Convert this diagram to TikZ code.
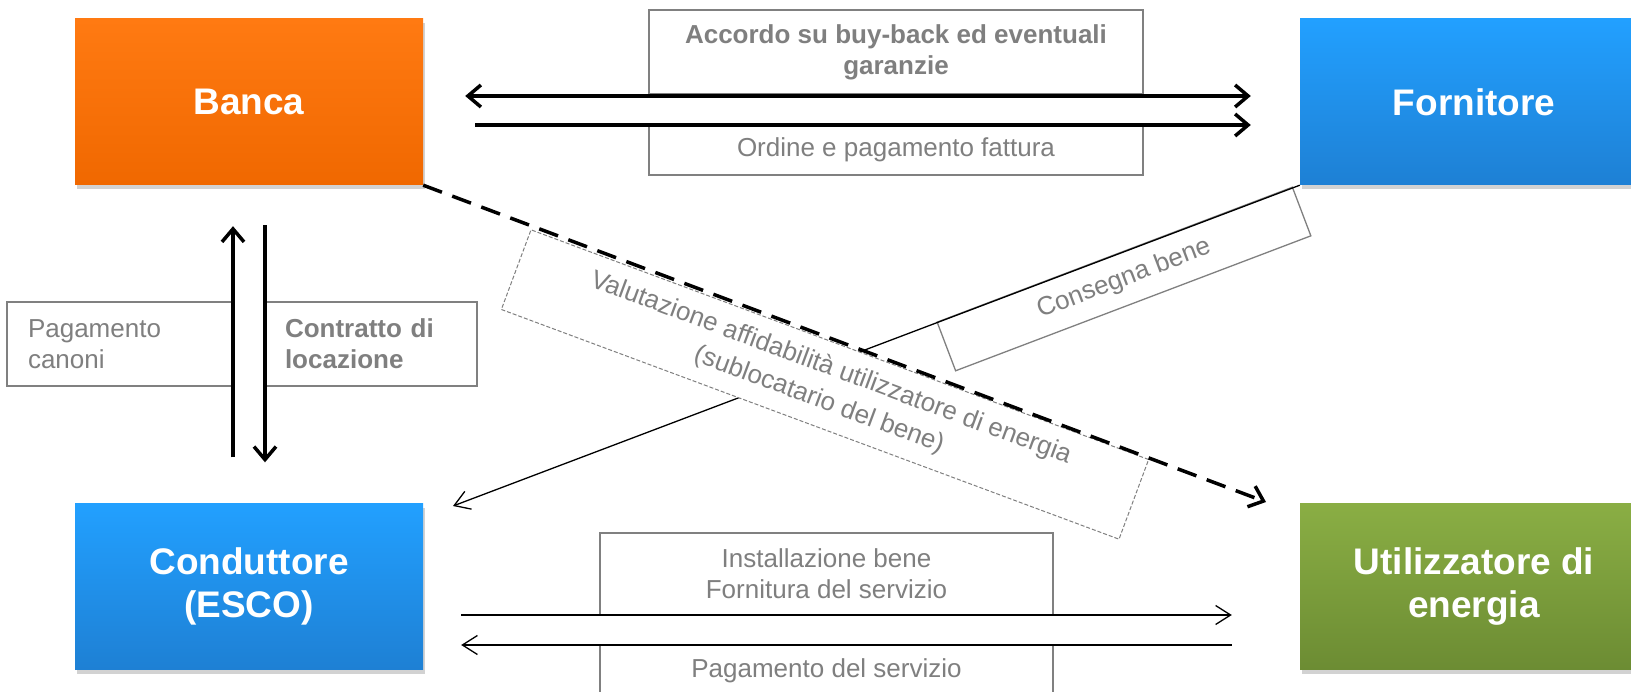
\documentclass[tikz,border=0pt]{standalone}
\usepackage{fontspec}
\setmainfont{Liberation Sans}
\usetikzlibrary{arrows.meta,shadows,positioning}

\definecolor{bancatop}{HTML}{FF7A12}
\definecolor{bancabot}{HTML}{F06800}
\definecolor{bluetop}{HTML}{22A0FF}
\definecolor{bluebot}{HTML}{1E80D4}
\definecolor{greentop}{HTML}{8AAE44}
\definecolor{greenbot}{HTML}{6C8C33}
\definecolor{boxgray}{HTML}{808080}
\definecolor{txtgray}{HTML}{7F7F7F}

\tikzset{
  entity/.style={minimum width=348pt, minimum height=166pt, inner sep=0pt,
    text=white, align=center, font=\fontsize{37}{43}\selectfont\bfseries,
    drop shadow={shadow xshift=2pt, shadow yshift=-4pt, opacity=0.35}},
  lbl/.style={draw=boxgray, line width=1.3pt, fill=white, text=txtgray,
    inner sep=0pt, align=center, font=\fontsize{26}{31}\selectfont},
  lblbold/.style={lbl, font=\fontsize{26}{31}\selectfont\bfseries},
  bigarrow/.style={line width=3.5pt, -{Straight Barb[length=13pt,width=22pt]}},
  bigboth/.style={line width=3.5pt,
    {Straight Barb[length=13pt,width=22pt]}-{Straight Barb[length=13pt,width=22pt]}},
  smallarrow/.style={line width=1.3pt, -{Straight Barb[length=15pt,width=19pt]}},
}

\begin{document}
\begin{tikzpicture}[x=1pt,y=-1pt]
  \useasboundingbox (0,0) rectangle (1631,692);
  \clip (0,0) rectangle (1631,692);
  \fill[white] (0,0) rectangle (1631,692);

  % soggetti
  \node[entity, top color=bancatop, bottom color=bancabot] (banca) at (249,102) {Banca};
  \node[entity, top color=bluetop, bottom color=bluebot] (fornitore) at (1474,102) {Fornitore};
  \node[entity, top color=bluetop, bottom color=bluebot] (conduttore) at (249,586.5) {Conduttore\\(ESCO)};
  \node[entity, top color=greentop, bottom color=greenbot] (utilizzatore) at (1474,586.5) {Utilizzatore di\\energia};

  % etichette
  \node[lblbold, minimum width=494pt, minimum height=84pt] (accordo) at (896,52) {Accordo su buy-back ed eventuali\\garanzie};
  \node[lbl, minimum width=494pt, minimum height=50pt] (ordine) at (896,150) {Ordine e pagamento fattura};
  \node[lbl, minimum height=84pt, text width=184pt, inner xsep=21pt, align=left] (canoni) at (120,344) {Pagamento\\canoni};
  \node[lblbold, minimum height=84pt, text width=173pt, inner xsep=19pt, align=left] (contratto) at (371.5,344) {Contratto di\\locazione};
  \node[lbl, minimum width=453pt, minimum height=82pt] (installazione) at (826.5,574) {Installazione bene\\Fornitura del servizio};
  \node[lbl, minimum width=453pt, minimum height=52pt] (servizio) at (826.5,671) {Pagamento del servizio};
  \node[lbl, rotate=20.8, minimum width=380pt, minimum height=52pt] (consegna) at (1124,279) {Consegna bene};

  % flussi
  \draw[bigboth, shorten <=42pt, shorten >=49pt] (banca.east |- 0,96) -- (fornitore.west |- 0,96);
  \draw[bigarrow, shorten <=52pt, shorten >=49pt] (banca.east |- 0,125) -- (fornitore.west |- 0,125);
  \draw[bigarrow, shorten <=46pt, shorten >=41pt] (conduttore.north -| 233,0) -- (banca.south -| 233,0);
  \draw[bigarrow, shorten <=40pt, shorten >=41pt] (banca.south -| 265,0) -- (conduttore.north -| 265,0);

  \coordinate (consegnatip) at (453,506);
  \draw[smallarrow] (fornitore.south west) -- (consegnatip);

  \node[lbl, font=\fontsize{26}{34}\selectfont, line width=1pt, dash pattern=on 4pt off 2pt, rotate=-20.4, minimum width=659pt, minimum height=85pt] (valutazione) at (825,384.5) {Valutazione affidabilità utilizzatore di energia\\(sublocatario del bene)};

  \coordinate (valutazionetip) at (1266,502);
  \draw[bigarrow, dash pattern=on 20pt off 11pt] (banca.south east) -- (valutazionetip);

  \draw[smallarrow, shorten <=38pt, shorten >=68pt] (conduttore.east |- 0,615) -- (utilizzatore.west |- 0,615);
  \draw[smallarrow, shorten <=68pt, shorten >=38pt] (utilizzatore.west |- 0,645) -- (conduttore.east |- 0,645);
\end{tikzpicture}
\end{document}
